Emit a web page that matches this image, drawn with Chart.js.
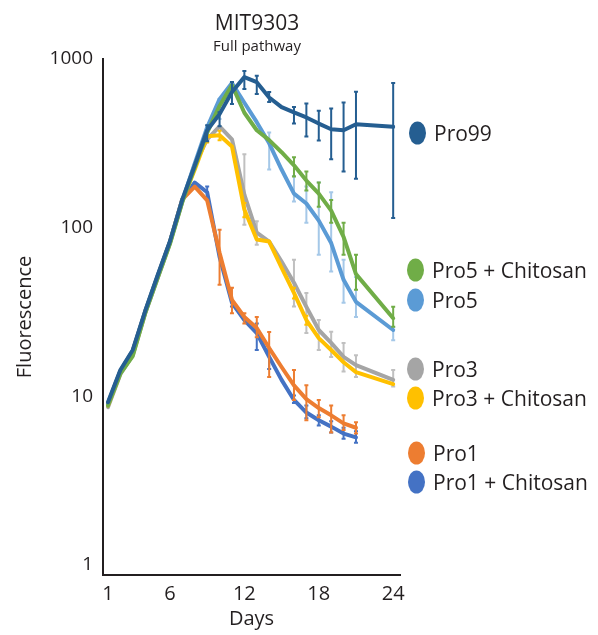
<!DOCTYPE html>
<html>
<head>
<meta charset="utf-8">
<script src="https://cdn.jsdelivr.net/npm/chart.js@4.4.0/dist/chart.umd.min.js"></script>
<style>
  body { margin: 0; background: #fff; font-family: "Open Sans", sans-serif; color: #231F20; }
  #wrap { position: relative; width: 598px; height: 635px; }
  canvas { position: absolute; left: 0; top: 0; }
  .title { position: absolute; left: 157px; width: 200px; text-align: center; white-space: nowrap; }
  .legend-item { position: absolute; display: flex; align-items: center; font-size: 21px; line-height: 1; white-space: nowrap; transform: translateY(-50%); }
  .dot { width: 17px; height: 23px; border-radius: 50%; margin-right: 8px; }
</style>
</head>
<body>
<div id="wrap">
  <canvas id="chart" width="598" height="635"></canvas>
  <div class="title" style="top:8px; font-size:21px;">MIT9303</div>
  <div class="title" style="top:35px; font-size:15px;">Full pathway</div>
  <div id="legend"></div>
</div>
<script>
// Days on the x axis
const days = [1, 2, 3, 4, 5, 6, 7, 8, 9, 10, 11, 12, 13, 14, 15, 16, 17, 18, 19, 20, 21, 22, 23, 24];
const xTicks = [1, 6, 12, 18, 24];
const yTicks = [1, 10, 100, 1000];

// Series values (fluorescence), null where there is no point
const pro99 = [9.2, 14.3, 18.8, 32, 52, 83, 147, 234, 378, 471, 637, 781, 729, 591, 518, 482, 450, 414, 383, 378, 410, null, null, 396];
const pro99Hi = [null, null, null, null, null, null, null, null, 405, 484, 730, 848, 796, 637, null, 520, 545, 493, 509, 553, 639, null, null, 720];
const pro99Lo = [null, null, null, null, null, null, null, null, 325, 399, 540, 663, 619, 555, null, 414, 347, 329, 254, 215, 195, null, null, 114];

const pro5Chi = [8.8, 13.6, 17.3, 31, 50, 80, 142, 228, 366, 527, 700, 480, 378, 330, 280, 234, 190, 159, 126, 88, 53, null, null, 29];
const pro5ChiHi = [null, null, null, null, null, null, null, null, null, null, null, null, null, null, null, 261, 215, 185, 146, 107, 69, null, null, 33.9];
const pro5ChiLo = [null, null, null, null, null, null, null, null, null, null, null, null, null, null, null, 201, 166, 133, 107, 69, 42.8, null, null, 25.8];

const pro5 = [9.0, 14.0, 18.3, 31.5, 51, 82, 145, 240, 394, 578, 720, 550, 422, 316, 221, 159, 139, 110, 81, 49, 36.3, null, null, 24.7];
const pro5Hi = [null, null, null, null, null, null, null, null, null, 580, null, null, null, 367, null, 202, 175, 185, 162, 64.5, 51, null, null, 25.7];
const pro5Lo = [null, null, null, null, null, null, null, null, null, 440, null, null, null, 221, null, 143, 107, 69, 55, 35.8, 29.5, null, null, 21.5];

const pro3 = [8.6, 13.5, 17.5, 31, 50, 81, 143, 237, 334, 399, 334, 157, 93.4, 82.6, 62.8, 47.1, 33.9, 24.7, 20.7, 17.1, 15.3, null, null, 12.5];
const pro3Hi = [null, null, null, null, null, null, null, null, null, null, null, 272, 109, null, null, 64.5, 41, 28.3, 24.1, 20.7, 17.5, null, null, 14.3];
const pro3Lo = [null, null, null, null, null, null, null, null, null, null, null, 104, 79, null, null, 34, 23.7, 18.8, 17.1, 14, 13, null, null, 11.4];

const pro3Chi = [8.8, 13.8, 17.8, 31.5, 51, 82, 145, 221, 348, 353, 303, 128, 84.9, 82.6, 57.8, 41, 28.3, 22.1, 18.8, 15.9, 13.9, null, null, 11.8];
const pro3ChiHi = [null, null, null, null, null, null, null, null, 380, 375, null, 140, null, null, null, 44, 30, null, null, null, null, null, null, null];
const pro3ChiLo = [null, null, null, null, null, null, null, null, 320, 330, null, 115, null, null, null, 38, 26.5, null, null, null, null, null, null, null];

const pro1 = [9.0, 14.0, 18.5, 31.5, 51, 82, 147, 175, 145, 71, 37.3, 29.5, 25.4, 19.3, 14.9, 11.6, 9.6, 8.5, 7.7, 6.9, 6.5, null, null, null];
const pro1Hi = [null, null, null, null, null, null, null, null, null, 97, 44, 31, 29.5, 24, null, 14.3, 11.6, 9.5, 8.8, 7.7, 7.0, null, null, null];
const pro1Lo = [null, null, null, null, null, null, null, null, null, 45.8, 31, 27, 22.4, 13, null, 9.5, 7.2, 7.5, 6.1, 6.3, 6.0, null, null, null];

const pro1Chi = [9.1, 14.1, 18.6, 31.8, 51.5, 82.5, 148, 185, 162, 67, 35.8, 28.3, 23.7, 17.1, 12.5, 9.5, 8.0, 7.2, 6.6, 6.0, 5.7, null, null, null];
const pro1ChiHi = [null, null, null, null, null, null, null, null, 175, null, 37, null, 27, 19, null, 10.1, 8.8, 7.7, 7.1, 6.5, 6.2, null, null, null];
const pro1ChiLo = [null, null, null, null, null, null, null, null, 150, null, 34, null, 18.8, 14.5, null, 9.1, 7.4, 6.7, 6.1, 5.6, 5.3, null, null, null];

// Legend entries (label, colour, vertical centre)
const legendItems = [
    { label: 'Pro99', color: '#255E91', y: 133, left: 409 },
    { label: 'Pro5 + Chitosan', color: '#70AD47', y: 270, left: 407 },
    { label: 'Pro5', color: '#5B9BD5', y: 300, left: 407 },
    { label: 'Pro3', color: '#A5A5A5', y: 369, left: 407 },
    { label: 'Pro3 + Chitosan', color: '#FFC000', y: 398, left: 407 },
    { label: 'Pro1', color: '#ED7D31', y: 453, left: 408 },
    { label: 'Pro1 + Chitosan', color: '#4472C4', y: 482, left: 408 }
];

const legend = document.getElementById('legend');
legendItems.forEach(function (item) {
    const div = document.createElement('div');
    div.className = 'legend-item';
    div.style.left = item.left + 'px';
    div.style.top = item.y + 'px';
    const dot = document.createElement('span');
    dot.className = 'dot';
    dot.style.background = item.color;
    const text = document.createElement('span');
    text.textContent = item.label;
    div.appendChild(dot);
    div.appendChild(text);
    legend.appendChild(div);
});

function points(values) {
    return values.map((v, i) => ({ x: days[i], y: v }));
}

function makeSeries(label, values, hi, lo, color, errColor) {
    return {
        label: label,
        data: points(values),
        errHi: hi,
        errLo: lo,
        errColor: errColor,
        borderColor: color,
        backgroundColor: color,
        borderWidth: 4,
        pointRadius: 0,
        tension: 0,
        spanGaps: true,
        borderJoinStyle: 'round',
        borderCapStyle: 'round'
    };
}

// Draw vertical error bars for each series right after its line
const errorBars = {
    id: 'errorBars',
    afterDatasetDraw(chart, args) {
        const ds = chart.data.datasets[args.index];
        if (!ds.errHi) return;
        const ctx = chart.ctx;
        const xs = chart.scales.x;
        const ys = chart.scales.y;
        ctx.save();
        ctx.strokeStyle = ds.errColor;
        ctx.lineWidth = 2;
        for (let i = 0; i < days.length; i++) {
            const hi = ds.errHi[i];
            const lo = ds.errLo[i];
            if (hi == null || lo == null) continue;
            const px = xs.getPixelForValue(days[i]);
            const top = ys.getPixelForValue(hi);
            const bot = ys.getPixelForValue(lo);
            ctx.beginPath();
            ctx.moveTo(px, top);
            ctx.lineTo(px, bot);
            ctx.moveTo(px - 2, top);
            ctx.lineTo(px + 2, top);
            ctx.moveTo(px - 2, bot);
            ctx.lineTo(px + 2, bot);
            ctx.stroke();
        }
        ctx.restore();
    }
};

const axisColor = '#231F20';

new Chart(document.getElementById('chart').getContext('2d'), {
    type: 'line',
    data: {
        datasets: [
            makeSeries('Pro99', pro99, pro99Hi, pro99Lo, '#255E91', '#255E91'),
            makeSeries('Pro5 + Chitosan', pro5Chi, pro5ChiHi, pro5ChiLo, '#70AD47', '#70AD47'),
            makeSeries('Pro5', pro5, pro5Hi, pro5Lo, '#5B9BD5', 'rgba(91,155,213,0.55)'),
            makeSeries('Pro3 + Chitosan', pro3Chi, pro3ChiHi, pro3ChiLo, '#FFC000', '#FFC000'),
            makeSeries('Pro3', pro3, pro3Hi, pro3Lo, '#A5A5A5', 'rgba(165,165,165,0.7)'),
            makeSeries('Pro1', pro1, pro1Hi, pro1Lo, '#ED7D31', '#ED7D31'),
            makeSeries('Pro1 + Chitosan', pro1Chi, pro1ChiHi, pro1ChiLo, '#4472C4', '#4472C4')
        ]
    },
    options: {
        responsive: false,
        animation: false,
        devicePixelRatio: 1,
        layout: { padding: { top: 59, right: 198, left: 0, bottom: 0 } },
        plugins: {
            legend: { display: false },
            tooltip: { enabled: false }
        },
        scales: {
            x: {
                type: 'linear',
                min: 0.6,
                max: 24.55,
                afterBuildTicks: s => { s.ticks = xTicks.map(v => ({ value: v })); },
                afterFit: s => { s.height = 60; },
                grid: { display: false, drawTicks: false },
                border: { display: true, color: axisColor, width: 2 },
                ticks: {
                    color: axisColor,
                    padding: 7,
                    autoSkip: false,
                    maxRotation: 0,
                    font: { family: 'Open Sans', size: 20 }
                },
                title: {
                    display: true,
                    text: 'Days',
                    color: axisColor,
                    font: { family: 'Open Sans', size: 20 },
                    padding: { top: 0, bottom: 4 }
                }
            },
            y: {
                type: 'logarithmic',
                min: 0.87,
                max: 1000,
                afterBuildTicks: s => { s.ticks = yTicks.map(v => ({ value: v })); },
                afterFit: s => { s.width = 103; },
                grid: { display: false, drawTicks: false },
                border: { display: true, color: axisColor, width: 2 },
                ticks: {
                    color: axisColor,
                    padding: 10,
                    callback: v => String(v),
                    font: { family: 'Open Sans', size: 19 }
                },
                title: {
                    display: true,
                    text: 'Fluorescence',
                    color: axisColor,
                    font: { family: 'Open Sans', size: 20 },
                    padding: { top: 13, bottom: 0 }
                }
            }
        }
    },
    plugins: [errorBars]
});
</script>
</body>
</html>
